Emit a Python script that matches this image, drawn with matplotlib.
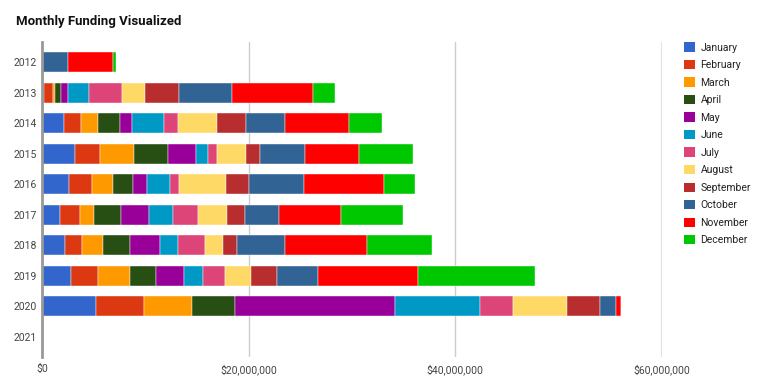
import numpy as np
import matplotlib
matplotlib.use("Agg")
import matplotlib.pyplot as plt
from matplotlib.patches import Patch
from matplotlib.ticker import FuncFormatter

plt.rcParams["font.family"] = ["Roboto", "DejaVu Sans"]

years = ["2012", "2013", "2014", "2015", "2016", "2017", "2018", "2019", "2020", "2021"]
months = ["January", "February", "March", "April", "May", "June", "July",
          "August", "September", "October", "November", "December"]
colors = ["#3366cc", "#dc3912", "#ff9900", "#274e13", "#990099", "#0099c6",
          "#dd4477", "#ffd966", "#b82e2e", "#316395", "#ff0000", "#00c800"]

# funding per month, millions of dollars (rows = years)
y2012 = [0, 0, 0, 0, 0, 0, 0, 0, 0, 2.52, 4.39, 0.29]
y2013 = [0.22, 0.81, 0.22, 0.61, 0.68, 2.03, 3.16, 2.20, 3.35, 5.10, 7.87, 2.07]
y2014 = [2.10, 1.67, 1.67, 2.07, 1.22, 3.10, 1.33, 3.75, 2.87, 3.78, 6.14, 3.25]
y2015 = [3.22, 2.42, 3.23, 3.29, 2.77, 1.10, 0.93, 2.81, 1.30, 4.36, 5.29, 5.23]
y2016 = [2.64, 2.20, 2.03, 1.91, 1.41, 2.23, 0.84, 4.52, 2.28, 5.27, 7.77, 3.00]
y2017 = [1.74, 1.97, 1.36, 2.61, 2.68, 2.35, 2.36, 2.81, 1.74, 3.29, 6.00, 6.00]
y2018 = [2.20, 1.70, 2.03, 2.61, 2.88, 1.71, 2.61, 1.77, 1.33, 4.68, 7.97, 6.26]
y2019 = [2.84, 2.61, 3.10, 2.52, 2.71, 1.84, 2.07, 2.55, 2.49, 3.97, 9.64, 11.39]
y2020 = [5.23, 4.65, 4.65, 4.10, 15.49, 8.23, 3.23, 5.26, 3.17, 1.55, 0.48, 0]
y2021 = [0] * 12

data = np.array([y2012, y2013, y2014, y2015, y2016, y2017, y2018, y2019, y2020, y2021]) * 1e6

fig = plt.figure(figsize=(7.64, 3.87), dpi=100)
ax = fig.add_axes([42 / 764, 30 / 387, 620 / 764, 315 / 387])

pos = np.arange(len(years))
left = np.zeros(len(years))
for i, m in enumerate(months):
    ax.barh(pos, data[:, i], left=left, height=0.656, color=colors[i],
            edgecolor="white", linewidth=0.3, zorder=3)
    left += data[:, i]

ax.set_ylim(9.67, -0.67)
ax.set_xlim(0, 60e6)
ax.set_yticks(pos)
ax.set_yticklabels(years)
ax.set_xticks([0, 20e6, 40e6, 60e6])
ax.xaxis.set_major_formatter(FuncFormatter(lambda v, _: f"${v:,.0f}"))
ax.tick_params(length=0, labelsize=7.5, colors="#444444")
ax.tick_params(axis="x", pad=5)
ax.tick_params(axis="y", pad=4)
ax.grid(axis="x", color="#cccccc", linewidth=1, zorder=0)
ax.get_xgridlines()[-1].set_color("#e3e3e3")
ax.get_xgridlines()[-1].set_linewidth(1.5)
for s in ["top", "right", "bottom"]:
    ax.spines[s].set_visible(False)
ax.spines["left"].set_color("#999999")
ax.spines["left"].set_linewidth(2)
ax.spines["left"].set_zorder(4)

fig.text(16 / 764, 1 - 21 / 387, "Monthly Funding Visualized", fontsize=9.5,
         fontweight="bold", va="center", ha="left", color="#111111")

handles = [Patch(facecolor=c, edgecolor="none") for c in colors]
fig.legend(handles, months, loc="upper left", bbox_to_anchor=(675 / 764, 1 - 33 / 387),
           frameon=False, fontsize=7.5, handlelength=1.0, handleheight=1.0,
           handletextpad=0.55, labelspacing=0.7, labelcolor="#222222")

fig.savefig("out.png", dpi=100)
